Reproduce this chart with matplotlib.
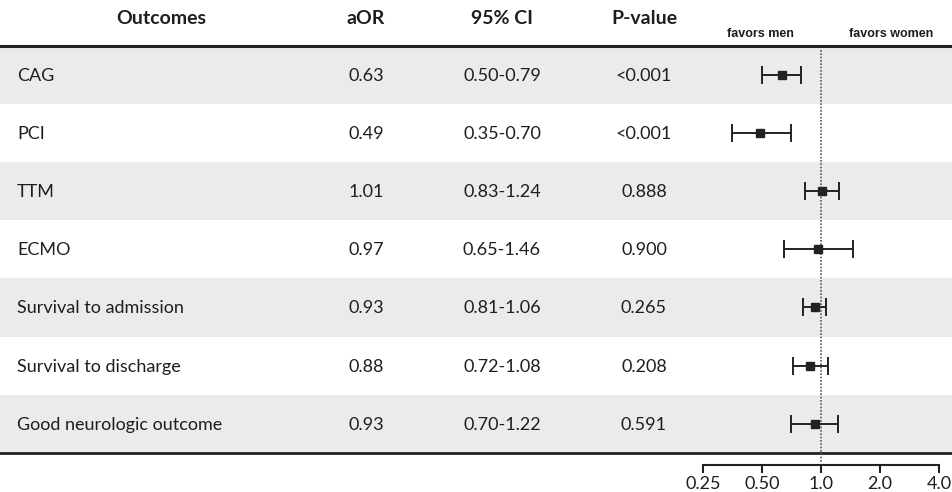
import numpy as np
import matplotlib.pyplot as plt

outcomes = ["CAG", "PCI", "TTM", "ECMO", "Survival to admission",
            "Survival to discharge", "Good neurologic outcome"]
aor = [0.63, 0.49, 1.01, 0.97, 0.93, 0.88, 0.93]
ci_low = [0.50, 0.35, 0.83, 0.65, 0.81, 0.72, 0.70]
ci_high = [0.79, 0.70, 1.24, 1.46, 1.06, 1.08, 1.22]
p_values = ["<0.001", "<0.001", "0.888", "0.900", "0.265", "0.208", "0.591"]
headers = ["Outcomes", "aOR", "95% CI", "P-value"]
x_ticks = [0.25, 0.5, 1.0, 2.0, 4.0]
x_ticklabels = ["0.25", "0.50", "1.0", "2.0", "4.0"]

W, H = 953, 492
top, row_h = 46, 58.1
n = len(outcomes)
bottom = top + n * row_h
text_col = "#1e1e1e"
shade = "#ebebeb"

plt.rcParams['font.family'] = ['Lato', 'DejaVu Sans']

fig = plt.figure(figsize=(W / 100, H / 100), dpi=100)
fig.patch.set_facecolor("white")

# table layer in pixel coordinates
tab = fig.add_axes([0, 0, 1, 1])
tab.set_xlim(0, W)
tab.set_ylim(H, 0)
tab.axis("off")

for i in range(n):
    y0 = top + i * row_h
    if i % 2 == 0:
        tab.axhspan(y0, y0 + row_h, color=shade, lw=0, zorder=0)

tab.plot([0, W], [top, top], color="#222222", lw=2.2, zorder=2)
tab.plot([0, W], [bottom, bottom], color="#222222", lw=2, zorder=2)

col_x = [161, 366, 502, 644]
for x, h in zip(col_x, headers):
    tab.text(x, 19, h, ha="center", va="center", fontsize=14,
             fontweight="bold", color=text_col)

fs = 13
for i in range(n):
    yc = top + (i + 0.5) * row_h + 1
    tab.text(17, yc, outcomes[i], ha="left", va="center", fontsize=fs,
             color=text_col)
    tab.text(col_x[1], yc, f"{aor[i]:.2f}", ha="center", va="center",
             fontsize=fs, color=text_col)
    tab.text(col_x[2], yc, f"{ci_low[i]:.2f}-{ci_high[i]:.2f}", ha="center",
             va="center", fontsize=fs, color=text_col)
    tab.text(col_x[3], yc, p_values[i], ha="center", va="center",
             fontsize=fs, color=text_col)

tab.text(760, 34, "favors men", ha="center", va="center", fontsize=9,
         fontweight="bold", family="Liberation Sans", color=text_col)
tab.text(891, 34, "favors women", ha="center", va="center", fontsize=9,
         fontweight="bold", family="Liberation Sans", color=text_col)

# forest plot layer
x0, x1 = 680, 953
ax = fig.add_axes([x0 / W, (H - bottom) / H, (x1 - x0) / W, (bottom - top) / H])
ax.patch.set_alpha(0)
ax.set_xscale("log", base=2)
ax.set_xlim(2 ** -2.39, 2 ** 2.237)
ax.set_ylim(n, 0)

y = np.arange(n) + 0.5
aor_arr = np.array(aor)
err = [aor_arr - np.array(ci_low), np.array(ci_high) - aor_arr]
ax.errorbar(aor_arr, y, xerr=err, fmt="s", color="#222222", ms=5.5,
            elinewidth=1.4, capsize=6.5, capthick=1.4, zorder=3)

ax.plot([1, 1], [0.07, n + 0.155], color="#555555", lw=1.2, ls=(0, (1, 1)),
        clip_on=False, zorder=2)

for s in ["top", "left", "right"]:
    ax.spines[s].set_visible(False)
ax.spines["bottom"].set_position(("outward", 9))
ax.spines["bottom"].set_bounds(0.25, 4.0)
ax.spines["bottom"].set_linewidth(1.5)
ax.spines["bottom"].set_color("#222222")
ax.set_yticks([])
ax.set_xticks(x_ticks)
ax.set_xticklabels(x_ticklabels)
ax.xaxis.set_minor_locator(plt.NullLocator())
ax.tick_params(axis="x", direction="out", length=6, width=1.5, color="#222222",
               labelsize=13, labelcolor=text_col, pad=2)

fig.savefig("out.png", dpi=100)
